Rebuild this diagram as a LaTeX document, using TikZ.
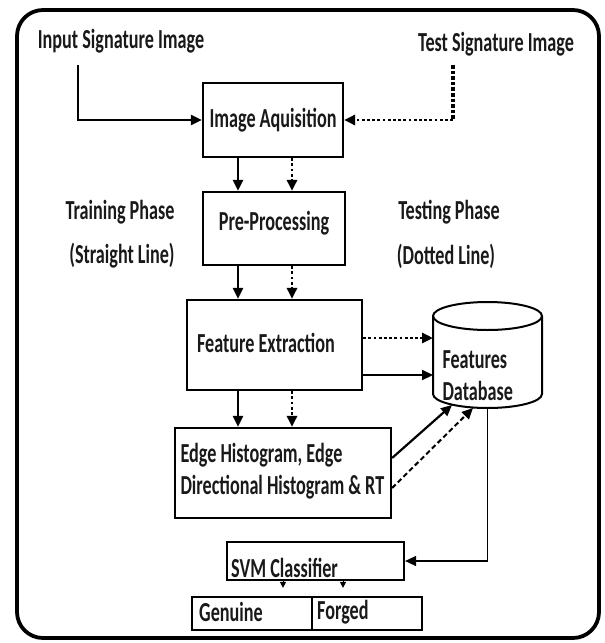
\documentclass[tikz,border=0pt]{standalone}
\usepackage{fontspec}
\setmainfont[FakeStretch=0.66]{Carlito}
\usetikzlibrary{arrows.meta}

\begin{document}
\begin{tikzpicture}[x=1pt, y=-1pt,
  every node/.style={font=\bfseries\fontsize{27.5}{32}\selectfont, text=black!90},
  box/.style={draw, line width=2.2pt, inner sep=0pt},
  tip/.style={-{Triangle[length=11pt,width=10pt]}},
  smalltip/.style={-{Triangle[length=6pt,width=6pt]}},
  solidarr/.style={tip, line width=2.2pt},
  dotarr/.style={tip, line width=2.8pt, dash pattern=on 2.8pt off 2.4pt},
  dasharr/.style={tip, line width=2pt, dash pattern=on 5pt off 3pt},
]
\useasboundingbox (0,0) rectangle (605,643);

% outer frame
\draw[line width=3.8pt, rounded corners=26pt] (17,10) rectangle (599,638);

% headings
\node (insig) at (121,41) {Input Signature Image};
\node (testsig) at (496,44) {Test Signature Image};
\node (train1) at (120,212) {Training Phase};
\node (train2) at (122,256) {(Straight Line)};
\node (test1) at (449,212) {Testing Phase};
\node (test2) at (446,256) {(Dotted Line)};

% processing blocks
\node[box, minimum width=140pt, minimum height=74pt] (acq) at (273,120) {Image Aquisition};
\node[box, minimum width=142pt, minimum height=73pt] (pre) at (274,228.5) {};
\node (pretext) at (274,223) {Pre-Processing};
\node[box, minimum width=175pt, minimum height=90pt] (fe) at (274.5,345) {};
\node (fetext) at (266,343) {Feature Extraction};
\node[box, minimum width=216pt, minimum height=90pt] (edge) at (283,473) {};
\node[align=left, anchor=west] (edgetext) at (177,471) {Edge Histogram, Edge\\Directional Histogram \& RT};
\node[box, minimum width=177pt, minimum height=38pt] (svm) at (315.5,561) {};
\node[anchor=base west, inner sep=0pt] (svmtext) at (231,577) {SVM Classifier};
\node[box, minimum width=120pt, minimum height=33pt] (gen) at (252,613.5) {};
\node[box, minimum width=110pt, minimum height=33pt] (forg) at (367,613.5) {};
\node[anchor=west, inner sep=0pt] at (199,612) {Genuine};
\node[anchor=west, inner sep=0pt] at (317,612) {Forged};

% features database cylinder
\draw[line width=2pt] (487.5,316) ellipse[x radius=54.5, y radius=14];
\draw[line width=2pt] (433,316) -- (433,394)
  arc[start angle=180, end angle=0, x radius=54.5, y radius=14] -- (542,316);
\node[align=left, anchor=west] (db) at (439,376) {Features\\Database};

% reference points for the connectors
\coordinate (xs) at (238,0);
\coordinate (xd) at (292,0);
\coordinate (inTop) at (78,65);
\coordinate (testTop) at (453,65);
\coordinate (dbL) at (433,0);
\coordinate (yd) at (0,338);
\coordinate (ys) at (0,375);
\coordinate (dbS) at (452,405);
\coordinate (dbD) at (473,408);
\coordinate (dbB) at (487.5,408);

% inputs
\draw[solidarr] (inTop) |- (acq.west);
\draw[line width=3.6pt, dash pattern=on 3.6pt off 2pt] (testTop) -- (testTop |- acq.east);
\draw[dotarr] (testTop |- acq.east) -- (acq.east);

% main chain: training (solid) and testing (dotted)
\draw[solidarr] (acq.south -| xs) -- (pre.north -| xs);
\draw[dotarr] (acq.south -| xd) -- (pre.north -| xd);
\draw[solidarr] (pre.south -| xs) -- (fe.north -| xs);
\draw[dotarr] (pre.south -| xd) -- (fe.north -| xd);
\draw[solidarr] (fe.south -| xs) -- (edge.north -| xs);
\draw[dotarr] (fe.south -| xd) -- (edge.north -| xd);

% into the database
\draw[dotarr] (fe.east |- yd) -- (dbL |- yd);
\draw[solidarr] (fe.east |- ys) -- (dbL |- ys);
\draw[solidarr] ([yshift=15pt]edge.east) -- (dbS);
\draw[dasharr] ([yshift=-15pt]edge.east) -- (dbD);

% classification
\draw[solidarr, line width=1.5pt] (dbB) |- (svm.east);
\draw[smalltip, line width=1pt, shorten >=8pt] (svm.south -| 283,0) -- (gen.north -| 283,0);
\draw[smalltip, line width=1pt, shorten >=8pt] (svm.south -| 343,0) -- (forg.north -| 343,0);
\end{tikzpicture}
\end{document}
